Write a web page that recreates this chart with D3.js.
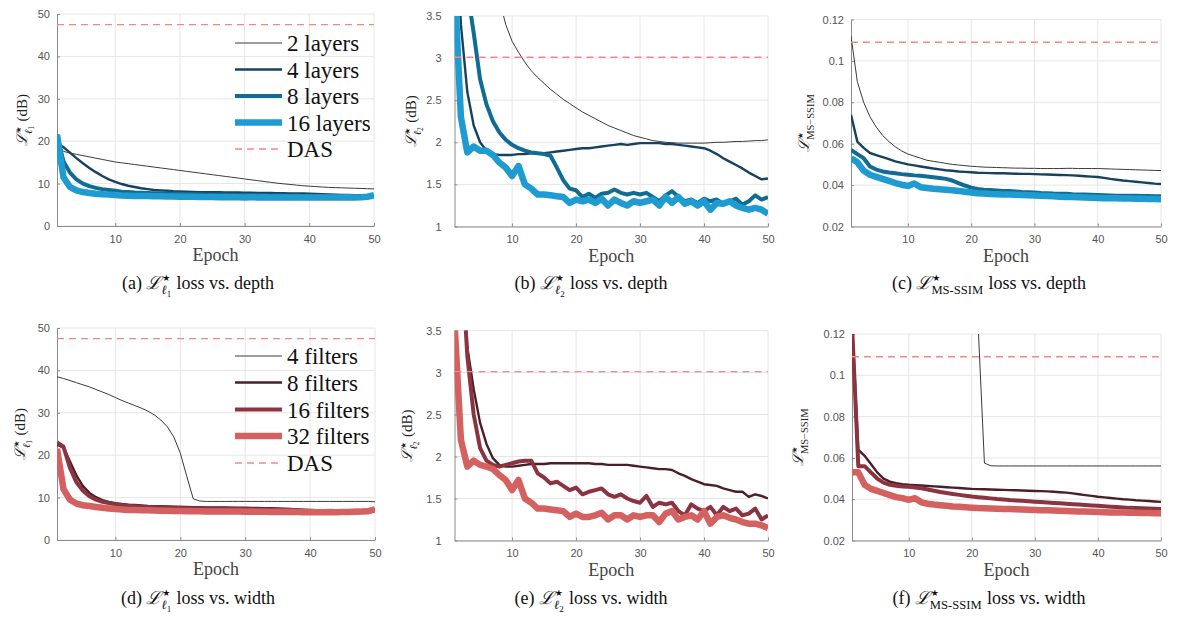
<!DOCTYPE html>
<html>
<head>
<meta charset="utf-8">
<script src="https://cdn.jsdelivr.net/npm/d3@7"></script>
<style>
  body { margin: 0; background: #fff; }
  svg { display: block; }
</style>
</head>
<body>
<div id="chart"></div>
<script>
const epochs = d3.range(1, 51);
const xTicks = [10, 20, 30, 40, 50];
const l1Ticks = [0, 10, 20, 30, 40, 50];
const l2Ticks = [1, 1.5, 2, 2.5, 3, 3.5];
const ssimTicks = [0.02, 0.04, 0.06, 0.08, 0.1, 0.12];

const depthNames = ["2 layers", "4 layers", "8 layers", "16 layers", "DAS"];
const widthNames = ["4 filters", "8 filters", "16 filters", "32 filters", "DAS"];

const dasL1 = 47.5;
const dasL2 = 3.01;
const dasSsim = 0.109;

// (a) L1 loss vs depth
const l1Depth2 = [19.5, 17.6, 17.2, 16.9, 16.6, 16.3, 16.0, 15.7, 15.4, 15.1, 14.9, 14.7, 14.5, 14.3, 14.1, 13.9, 13.7, 13.5, 13.3, 13.1, 12.9, 12.7, 12.5, 12.3, 12.1, 11.9, 11.7, 11.5, 11.3, 11.1, 10.9, 10.7, 10.5, 10.3, 10.1, 9.95, 9.8, 9.65, 9.5, 9.4, 9.3, 9.2, 9.1, 9.05, 9.0, 8.95, 8.9, 8.85, 8.8, 8.75];
const l1Depth4 = [19.6, 18.6, 17.3, 16.0, 14.8, 13.7, 12.7, 11.8, 11.0, 10.4, 9.9, 9.5, 9.2, 8.9, 8.7, 8.5, 8.4, 8.3, 8.2, 8.15, 8.1, 8.05, 8.0, 8.0, 7.95, 7.95, 7.9, 7.9, 7.9, 7.85, 7.85, 7.8, 7.8, 7.8, 7.75, 7.75, 7.7, 7.7, 7.65, 7.6, 7.55, 7.5, 7.45, 7.4, 7.35, 7.3, 7.25, 7.2, 7.2, 7.15];
const l1Depth8 = [21.5, 15.2, 12.6, 11.0, 10.0, 9.4, 9.0, 8.7, 8.5, 8.3, 8.1, 8.0, 7.9, 7.85, 7.8, 7.75, 7.7, 7.65, 7.6, 7.6, 7.55, 7.5, 7.5, 7.45, 7.4, 7.45, 7.4, 7.35, 7.3, 7.35, 7.3, 7.3, 7.25, 7.2, 7.25, 7.2, 7.15, 7.2, 7.1, 7.15, 7.1, 7.1, 7.05, 7.0, 7.1, 7.0, 7.05, 7.0, 6.95, 7.0];
const l1Depth16 = [21.5, 11.5, 9.2, 8.4, 8.0, 7.8, 7.6, 7.5, 7.4, 7.3, 7.2, 7.15, 7.1, 7.1, 7.05, 7.0, 7.0, 6.95, 6.95, 6.9, 6.9, 6.9, 6.85, 6.85, 6.85, 6.8, 6.85, 6.8, 6.8, 6.75, 6.8, 6.75, 6.8, 6.75, 6.7, 6.75, 6.7, 6.75, 6.7, 6.7, 6.75, 6.7, 6.7, 6.75, 6.7, 6.8, 6.75, 6.8, 6.9, 7.3];

// (b) L2 loss vs depth
const l2Depth2 = [null, null, null, null, null, null, null, 3.7, 3.4, 3.2, 3.07, 2.95, 2.85, 2.77, 2.70, 2.63, 2.57, 2.51, 2.46, 2.41, 2.36, 2.32, 2.28, 2.24, 2.2, 2.17, 2.14, 2.11, 2.08, 2.06, 2.04, 2.02, 2.01, 2.0, 1.995, 1.99, 1.99, 1.99, 1.99, 1.99, 1.995, 2.0, 2.0, 2.005, 2.01, 2.01, 2.015, 2.02, 2.02, 2.03];
const l2Depth4 = [5.0, 3.4, 2.6, 2.2, 2.0, 1.9, 1.86, 1.85, 1.85, 1.85, 1.86, 1.86, 1.87, 1.87, 1.87, 1.88, 1.89, 1.9, 1.91, 1.92, 1.93, 1.93, 1.94, 1.95, 1.96, 1.97, 1.98, 1.97, 1.98, 1.99, 1.99, 1.99, 1.99, 1.98, 1.98, 1.97, 1.96, 1.95, 1.94, 1.93, 1.9, 1.86, 1.81, 1.77, 1.73, 1.69, 1.64, 1.6, 1.56, 1.57];
const l2Depth8 = [null, 5.2, 3.8, 3.3, 2.75, 2.45, 2.25, 2.12, 2.03, 1.97, 1.93, 1.9, 1.88, 1.87, 1.86, 1.84, 1.7, 1.55, 1.45, 1.43, 1.35, 1.39, 1.34, 1.39, 1.4, 1.44, 1.4, 1.38, 1.4, 1.38, 1.4, 1.35, 1.3, 1.37, 1.42, 1.35, 1.3, 1.32, 1.28, 1.33, 1.3, 1.32, 1.27, 1.3, 1.33, 1.26, 1.3, 1.37, 1.32, 1.35];
const l2Depth16 = [3.9, 2.3, 1.88, 1.95, 1.9, 1.9, 1.85, 1.76, 1.7, 1.6, 1.72, 1.5, 1.45, 1.38, 1.38, 1.37, 1.36, 1.35, 1.28, 1.32, 1.3, 1.32, 1.28, 1.33, 1.25, 1.32, 1.28, 1.25, 1.3, 1.28, 1.3, 1.32, 1.25, 1.35, 1.28, 1.35, 1.27, 1.3, 1.25, 1.3, 1.2, 1.28, 1.27, 1.3, 1.25, 1.22, 1.2, 1.22, 1.2, 1.15];

// (c) MS-SSIM loss vs depth
const ssimDepth2 = [0.112, 0.09, 0.08, 0.073, 0.068, 0.064, 0.061, 0.0585, 0.0565, 0.055, 0.054, 0.053, 0.052, 0.0515, 0.051, 0.0505, 0.05, 0.0497, 0.0494, 0.0491, 0.0489, 0.0487, 0.0486, 0.0485, 0.0484, 0.0483, 0.0482, 0.0482, 0.0481, 0.0481, 0.048, 0.048, 0.048, 0.048, 0.0481, 0.0481, 0.048, 0.048, 0.048, 0.048, 0.0479, 0.0478, 0.0477, 0.0476, 0.0475, 0.0474, 0.0473, 0.0472, 0.0471, 0.047];
const ssimDepth4 = [0.074, 0.061, 0.058, 0.0555, 0.0545, 0.0535, 0.0525, 0.0515, 0.0507, 0.05, 0.0495, 0.049, 0.0485, 0.048, 0.0476, 0.0472, 0.0469, 0.0466, 0.0464, 0.0462, 0.046, 0.0459, 0.0458, 0.0457, 0.0457, 0.0456, 0.0455, 0.0454, 0.0454, 0.0453, 0.0452, 0.0451, 0.045, 0.0449, 0.0448, 0.0447, 0.0445, 0.0443, 0.0441, 0.0439, 0.0435, 0.043, 0.0426, 0.0422, 0.0419, 0.0416, 0.0413, 0.041, 0.0407, 0.0405];
const ssimDepth8 = [0.057, 0.055, 0.053, 0.049, 0.0475, 0.0466, 0.0461, 0.0457, 0.0453, 0.045, 0.0447, 0.0445, 0.0442, 0.0438, 0.0434, 0.043, 0.0422, 0.041, 0.0398, 0.0388, 0.0381, 0.0378, 0.0376, 0.0374, 0.0372, 0.0371, 0.0369, 0.0367, 0.0366, 0.0364, 0.0362, 0.0361, 0.0359, 0.0358, 0.0358, 0.0356, 0.0355, 0.0354, 0.0353, 0.0352, 0.0351, 0.035, 0.0349, 0.0349, 0.0348, 0.0348, 0.0347, 0.0347, 0.0346, 0.0346];
const ssimDepth16 = [0.053, 0.051, 0.047, 0.045, 0.044, 0.043, 0.042, 0.041, 0.0402, 0.0396, 0.0408, 0.039, 0.0386, 0.0382, 0.038, 0.0378, 0.0375, 0.0372, 0.0368, 0.0364, 0.0361, 0.0359, 0.0357, 0.0356, 0.0355, 0.0354, 0.0353, 0.0352, 0.0351, 0.035, 0.0348, 0.0347, 0.0346, 0.0344, 0.0343, 0.0342, 0.0341, 0.034, 0.0339, 0.0338, 0.0337, 0.0337, 0.0336, 0.0335, 0.0335, 0.0334, 0.0334, 0.0333, 0.0333, 0.0332];

// (d) L1 loss vs width
const l1Width4 = [38.5, 38.1, 37.6, 37.1, 36.6, 36.1, 35.5, 34.9, 34.3, 33.6, 32.9, 32.3, 31.7, 31.1, 30.4, 29.5, 28.3, 26.7, 24.3, 20.5, 15.0, 9.7, 9.2, 9.1, 9.1, 9.1, 9.1, 9.1, 9.1, 9.1, 9.1, 9.1, 9.1, 9.1, 9.1, 9.1, 9.1, 9.1, 9.1, 9.1, 9.1, 9.1, 9.1, 9.1, 9.1, 9.1, 9.1, 9.1, 9.1, 9.0];
const l1Width8 = [22.5, 21.8, 18.5, 15.2, 12.7, 11.1, 10.1, 9.4, 9.0, 8.7, 8.5, 8.35, 8.25, 8.15, 8.05, 8.0, 7.95, 7.9, 7.85, 7.8, 7.8, 7.75, 7.75, 7.7, 7.7, 7.65, 7.65, 7.6, 7.6, 7.6, 7.55, 7.55, 7.5, 7.5, 7.45, 7.4, 7.3, 7.2, 7.1, 7.0, 7.0, 6.95, 6.95, 6.9, 6.95, 6.95, 7.0, 7.0, 7.05, 7.1];
const l1Width16 = [23.0, 22.0, 17.0, 13.6, 11.6, 10.3, 9.5, 9.0, 8.7, 8.4, 8.2, 8.05, 7.95, 7.85, 7.8, 7.75, 7.7, 7.65, 7.6, 7.6, 7.55, 7.5, 7.5, 7.45, 7.4, 7.4, 7.35, 7.35, 7.3, 7.3, 7.25, 7.25, 7.2, 7.2, 7.15, 7.1, 7.05, 7.0, 6.95, 6.9, 6.85, 6.85, 6.8, 6.8, 6.85, 6.85, 6.9, 6.9, 6.95, 7.0];
const l1Width32 = [21.5, 12.0, 9.5, 8.6, 8.2, 8.0, 7.8, 7.6, 7.45, 7.3, 7.2, 7.1, 7.05, 7.0, 7.0, 6.95, 6.9, 6.9, 6.85, 6.85, 6.8, 6.8, 6.8, 6.75, 6.75, 6.7, 6.75, 6.7, 6.7, 6.65, 6.7, 6.65, 6.65, 6.6, 6.65, 6.6, 6.6, 6.6, 6.55, 6.6, 6.55, 6.55, 6.6, 6.55, 6.6, 6.6, 6.65, 6.7, 6.8, 7.2];

// (e) L2 loss vs width (4 filters stays above the plotted range)
const l2Width8 = [null, 4.6, 3.3, 2.8, 2.4, 2.15, 1.98, 1.9, 1.88, 1.88, 1.89, 1.9, 1.91, 1.91, 1.91, 1.92, 1.92, 1.92, 1.92, 1.92, 1.92, 1.92, 1.91, 1.91, 1.9, 1.9, 1.9, 1.9, 1.89, 1.88, 1.87, 1.86, 1.85, 1.85, 1.84, 1.8, 1.77, 1.73, 1.7, 1.67, 1.66, 1.65, 1.62, 1.6, 1.58, 1.58, 1.52, 1.55, 1.53, 1.5];
const l2Width16 = [null, 4.5, 3.2, 2.5, 2.1, 1.95, 1.9, 1.88, 1.9, 1.92, 1.94, 1.95, 1.95, 1.8, 1.75, 1.68, 1.7, 1.65, 1.6, 1.63, 1.55, 1.58, 1.6, 1.62, 1.55, 1.52, 1.55, 1.5, 1.47, 1.45, 1.53, 1.4, 1.45, 1.43, 1.45, 1.35, 1.3, 1.43, 1.38, 1.35, 1.4, 1.3, 1.4, 1.35, 1.38, 1.3, 1.32, 1.38, 1.25, 1.3];
const l2Width32 = [3.6, 2.2, 1.88, 1.95, 1.9, 1.88, 1.85, 1.78, 1.72, 1.6, 1.72, 1.5, 1.45, 1.38, 1.38, 1.37, 1.36, 1.35, 1.28, 1.32, 1.28, 1.28, 1.3, 1.33, 1.25, 1.3, 1.3, 1.25, 1.3, 1.28, 1.3, 1.3, 1.22, 1.32, 1.35, 1.25, 1.28, 1.3, 1.25, 1.35, 1.2, 1.28, 1.3, 1.27, 1.25, 1.22, 1.2, 1.2, 1.18, 1.15];

// (f) MS-SSIM loss vs width
const ssimWidth4 = [null, null, null, null, null, null, null, null, null, null, null, null, null, null, null, null, null, null, null, null, 0.124, 0.0575, 0.0562, 0.0561, 0.0561, 0.0561, 0.0561, 0.0561, 0.0561, 0.0561, 0.0561, 0.0561, 0.0561, 0.0561, 0.0561, 0.0561, 0.0561, 0.0561, 0.0561, 0.0561, 0.0561, 0.0561, 0.0561, 0.0561, 0.0561, 0.0561, 0.0561, 0.0561, 0.0561, 0.0561];
const ssimWidth8 = [0.125, 0.064, 0.061, 0.057, 0.053, 0.05, 0.0485, 0.0478, 0.0473, 0.047, 0.0468, 0.0466, 0.0464, 0.0462, 0.046, 0.0458, 0.0456, 0.0454, 0.0452, 0.045, 0.0449, 0.0448, 0.0447, 0.0446, 0.0445, 0.0444, 0.0443, 0.0442, 0.0441, 0.044, 0.0439, 0.0438, 0.0436, 0.0434, 0.0432, 0.0428, 0.0424, 0.042, 0.0416, 0.0412, 0.0409, 0.0406, 0.0403, 0.04, 0.0398, 0.0395, 0.0393, 0.0391, 0.0389, 0.0387];
const ssimWidth16 = [0.125, 0.056, 0.056, 0.053, 0.05, 0.048, 0.047, 0.0465, 0.0462, 0.046, 0.0457, 0.0453, 0.0447, 0.0441, 0.0435, 0.043, 0.0425, 0.0421, 0.0417, 0.0413, 0.041, 0.0407, 0.0404, 0.0401, 0.0399, 0.0396, 0.0394, 0.0392, 0.039, 0.0388, 0.0386, 0.0384, 0.0382, 0.038, 0.0378, 0.0376, 0.0374, 0.0372, 0.037, 0.0368, 0.0366, 0.0364, 0.0362, 0.036, 0.0358, 0.0357, 0.0356, 0.0355, 0.0354, 0.0353];
const ssimWidth32 = [0.053, 0.053, 0.047, 0.045, 0.044, 0.043, 0.042, 0.041, 0.0405, 0.0397, 0.0405, 0.0385, 0.0378, 0.0374, 0.0371, 0.0368, 0.0365, 0.0363, 0.0361, 0.0359, 0.0357, 0.0356, 0.0355, 0.0354, 0.0353, 0.0352, 0.0351, 0.035, 0.0349, 0.0348, 0.0347, 0.0346, 0.0345, 0.0344, 0.0343, 0.0342, 0.0341, 0.034, 0.0339, 0.0338, 0.0337, 0.0336, 0.0336, 0.0335, 0.0334, 0.0334, 0.0333, 0.0333, 0.0332, 0.0332];

// line styles
const blueStyles = [
  { color: "#3a3a3a", width: 1 },
  { color: "#17425f", width: 2.4 },
  { color: "#106c93", width: 4 },
  { color: "#1e9bd0", width: 6.5 }
];
const redStyles = [
  { color: "#3a3a3a", width: 1 },
  { color: "#4a1f28", width: 2.4 },
  { color: "#8a3441", width: 4 },
  { color: "#d4615f", width: 6.5 }
];
const dasColor = "#ee8a86";
const serif = "Liberation Serif, DejaVu Serif, Times New Roman, serif";
const sans = "Liberation Sans, Arial, sans-serif";

const W = 1178, H = 618;
const svg = d3.select("#chart").append("svg")
  .attr("width", W)
  .attr("height", H);

// L with a star and a subscript (optionally with its own index), then a tail
function mathLabel(text, size, prefix, sub, idx, tail) {
  if (prefix) text.append("tspan").text(prefix);
  text.append("tspan")
    .attr("font-family", "DejaVu Serif")
    .attr("font-style", "italic")
    .text("ℒ");
  text.append("tspan")
    .attr("dx", 0.05 * size)
    .attr("dy", -0.45 * size)
    .attr("font-size", size * 0.5)
    .attr("font-family", "DejaVu Sans")
    .text("★");
  text.append("tspan")
    .attr("dx", -0.5 * size)
    .attr("dy", 0.75 * size)
    .attr("font-size", size * 0.7)
    .attr("font-style", idx ? "italic" : null)
    .text(sub);
  let back = 0.3 * size;
  if (idx) {
    text.append("tspan")
      .attr("dy", 0.15 * size)
      .attr("font-size", size * 0.5)
      .text(idx);
    back += 0.15 * size;
  }
  text.append("tspan")
    .attr("dx", 0.3 * size)
    .attr("dy", -back)
    .text(tail);
}

function drawPanel(p) {
  const [x0, y0, x1, y1] = p.box;
  const x = d3.scaleLinear().domain([1, 50]).range([x0, x1]);
  const y = d3.scaleLinear().domain(p.yDomain).range([y1, y0]);
  const g = svg.append("g");

  // grid
  g.append("g")
    .selectAll("line")
    .data(xTicks)
    .enter().append("line")
    .attr("x1", d => x(d)).attr("x2", d => x(d))
    .attr("y1", y0).attr("y2", y1)
    .attr("stroke", "#e6e6e6").attr("stroke-width", 1);
  g.append("g")
    .selectAll("line")
    .data(p.yTicks)
    .enter().append("line")
    .attr("x1", x0).attr("x2", x1)
    .attr("y1", d => y(d)).attr("y2", d => y(d))
    .attr("stroke", "#e6e6e6").attr("stroke-width", 1);

  // axes (matlab style: ticks inside)
  const ax = g.append("g")
    .attr("transform", `translate(0,${y1})`)
    .call(d3.axisBottom(x).tickValues(xTicks).tickSizeInner(-3).tickSizeOuter(0).tickPadding(9).tickFormat(d => d));
  const ay = g.append("g")
    .attr("transform", `translate(${x0},0)`)
    .call(d3.axisLeft(y).tickValues(p.yTicks).tickSizeInner(-3).tickSizeOuter(0).tickPadding(p.pad).tickFormat(d => String(d)));
  [ax, ay].forEach(a => {
    a.attr("font-family", sans).attr("font-size", 11);
    a.select(".domain").attr("stroke", "#8c8c8c");
    a.selectAll(".tick line").attr("stroke", "#8c8c8c");
    a.selectAll(".tick text").attr("fill", "#555");
  });

  // clip
  const clipId = "clip-" + p.id;
  svg.append("clipPath").attr("id", clipId)
    .append("rect")
    .attr("x", x0).attr("y", y0)
    .attr("width", x1 - x0).attr("height", y1 - y0);

  const plot = g.append("g").attr("clip-path", `url(#${clipId})`);
  const line = d3.line()
    .defined(d => d[1] != null)
    .x(d => x(d[0]))
    .y(d => y(d[1]));

  p.series.forEach((s, i) => {
    if (!s) return;
    plot.append("path")
      .datum(epochs.map((e, k) => [e, s[k]]))
      .attr("fill", "none")
      .attr("stroke", p.styles[i].color)
      .attr("stroke-width", p.styles[i].width)
      .attr("stroke-linejoin", "round")
      .attr("d", line);
  });

  plot.append("line")
    .attr("x1", x(1)).attr("x2", x(50))
    .attr("y1", y(p.das)).attr("y2", y(p.das))
    .attr("stroke", dasColor)
    .attr("stroke-width", 1.4)
    .attr("stroke-dasharray", "7,5");

  // x label
  g.append("text")
    .attr("x", (x0 + x1) / 2)
    .attr("y", y1 + 35)
    .attr("text-anchor", "middle")
    .attr("font-family", serif)
    .attr("font-size", 18)
    .attr("fill", "#444")
    .text("Epoch");

  // y label
  const yl = g.append("text")
    .attr("transform", `translate(${p.labelX},${(y0 + y1) / 2}) rotate(-90)`)
    .attr("text-anchor", "middle")
    .attr("dy", "0.35em")
    .attr("font-family", serif)
    .attr("font-size", 15)
    .attr("fill", "#222");
  mathLabel(yl, 15, null, p.sub, p.idx, p.yTail);

  // caption
  const cap = g.append("text")
    .attr("x", p.capX)
    .attr("y", p.capY)
    .attr("text-anchor", "middle")
    .attr("font-family", serif)
    .attr("font-size", 18)
    .attr("fill", "#111");
  mathLabel(cap, 18, p.tag + " ", p.capSub, p.idx, p.capText);

  // legend
  if (p.legend) {
    const lg = g.append("g");
    p.legend.forEach((name, i) => {
      const ry = p.legendY[i];
      const st = i < 4 ? p.styles[i] : { color: dasColor, width: 1.4 };
      lg.append("line")
        .attr("x1", 235).attr("x2", 282)
        .attr("y1", ry).attr("y2", ry)
        .attr("stroke", st.color)
        .attr("stroke-width", st.width)
        .attr("stroke-dasharray", i === 4 ? "7,5" : null);
      lg.append("text")
        .attr("x", 287).attr("y", ry)
        .attr("dy", "0.35em")
        .attr("font-family", serif)
        .attr("font-size", 23)
        .attr("fill", "#111")
        .text(name);
    });
  }
}

const panels = [
  { id: "a", box: [57, 14, 374, 226], yDomain: [0, 50], yTicks: l1Ticks, pad: 7,
    series: [l1Depth2, l1Depth4, l1Depth8, l1Depth16], styles: blueStyles, das: dasL1,
    labelX: 22, sub: "ℓ", idx: "1", yTail: "(dB)",
    capX: 198, capY: 289, tag: "(a)", capSub: "ℓ", capText: "loss vs. depth",
    legend: depthNames, legendY: [43, 69.5, 96, 122.5, 149] },
  { id: "b", box: [454.5, 16, 768, 226.5], yDomain: [1, 3.5], yTicks: l2Ticks, pad: 13,
    series: [l2Depth2, l2Depth4, l2Depth8, l2Depth16], styles: blueStyles, das: dasL2,
    labelX: 411, sub: "ℓ", idx: "2", yTail: "(dB)",
    capX: 591, capY: 289, tag: "(b)", capSub: "ℓ", capText: "loss vs. depth" },
  { id: "c", box: [851, 19.5, 1161, 226.5], yDomain: [0.02, 0.12], yTicks: ssimTicks, pad: 7,
    series: [ssimDepth2, ssimDepth4, ssimDepth8, ssimDepth16], styles: blueStyles, das: dasSsim,
    labelX: 804, sub: "MS−SSIM", idx: null, yTail: "",
    capX: 989, capY: 289, tag: "(c)", capSub: "MS-SSIM", capText: "loss vs. depth" },
  { id: "d", box: [57, 328, 375, 540], yDomain: [0, 50], yTicks: l1Ticks, pad: 7,
    series: [l1Width4, l1Width8, l1Width16, l1Width32], styles: redStyles, das: dasL1,
    labelX: 20, sub: "ℓ", idx: "1", yTail: "(dB)",
    capX: 198, capY: 604, tag: "(d)", capSub: "ℓ", capText: "loss vs. width",
    legend: widthNames, legendY: [356, 382.5, 409.5, 436, 463] },
  { id: "e", box: [454.5, 330.5, 768, 540.5], yDomain: [1, 3.5], yTicks: l2Ticks, pad: 13,
    series: [null, l2Width8, l2Width16, l2Width32], styles: redStyles, das: dasL2,
    labelX: 407, sub: "ℓ", idx: "2", yTail: "(dB)",
    capX: 591, capY: 604, tag: "(e)", capSub: "ℓ", capText: "loss vs. width" },
  { id: "f", box: [852, 334, 1161, 540.5], yDomain: [0.02, 0.12], yTicks: ssimTicks, pad: 7,
    series: [ssimWidth4, ssimWidth8, ssimWidth16, ssimWidth32], styles: redStyles, das: dasSsim,
    labelX: 798, sub: "MS−SSIM", idx: null, yTail: "",
    capX: 989, capY: 604, tag: "(f)", capSub: "MS-SSIM", capText: "loss vs. width" }
];

panels.forEach(drawPanel);
</script>
</body>
</html>
